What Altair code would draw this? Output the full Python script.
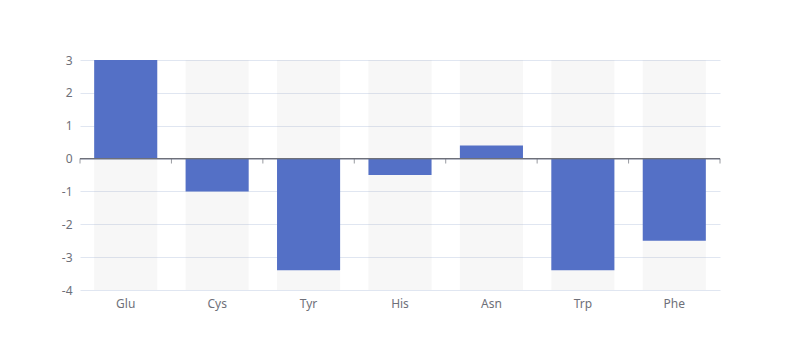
import altair as alt
import pandas as pd

categories = ["Glu", "Cys", "Tyr", "His", "Asn", "Trp", "Phe"]
values = [3, -1, -3.4, -0.5, 0.4, -3.4, -2.5]
y_min, y_max = -4, 3
y_ticks = [-4, -3, -2, -1, 0, 1, 2, 3]

df = pd.DataFrame({"cat": categories, "v": values, "lo": [y_min] * 7, "hi": [y_max] * 7})
last = pd.DataFrame({"cat": [categories[-1]]})

W, H = 640, 230
xscale = alt.Scale(domain=categories, paddingInner=0, paddingOuter=0)
yscale = alt.Scale(domain=[y_min, y_max], nice=False, zero=False)
font = "Noto Sans"

xaxis = alt.Axis(title=None, domain=False, ticks=False, labelAngle=0, grid=False,
                 labelColor="#6e7079", labelFontSize=12, labelPadding=8, labelFont=font)
yaxis = alt.Axis(title=None, values=y_ticks, tickCount=8, domain=False, ticks=False, grid=True,
                 gridColor="#e0e6f1", labelColor="#6e7079", labelFontSize=12,
                 labelPadding=8, labelFont=font, labelExpr="'' + datum.value")

bg = alt.Chart(df).mark_bar(color="#b4b4b4", opacity=0.1, width=alt.RelativeBandSize(0.69)).encode(
    x=alt.X("cat:N", scale=xscale, sort=categories, axis=xaxis),
    y=alt.Y("lo:Q", scale=yscale, axis=yaxis),
    y2="hi:Q",
)

bars = alt.Chart(df).mark_bar(color="#5470c6", width=alt.RelativeBandSize(0.69)).encode(
    x=alt.X("cat:N", scale=xscale, sort=categories, axis=xaxis),
    y=alt.Y("v:Q", scale=yscale, axis=yaxis),
    y2=alt.datum(0),
)

zero = alt.Chart(df).mark_rule(color="#6e7079", strokeWidth=1).encode(
    x=alt.value(0), x2=alt.value(W), y=alt.datum(0, scale=yscale, axis=yaxis)
)

ticks = alt.Chart(df).mark_tick(color="#6e7079", size=5, thickness=1, orient="vertical", yOffset=2.5).encode(
    x=alt.X("cat:N", scale=xscale, sort=categories, bandPosition=0, axis=xaxis),
    y=alt.datum(0, scale=yscale, axis=yaxis),
)
ticks_end = alt.Chart(last).mark_tick(color="#6e7079", size=5, thickness=1, orient="vertical", yOffset=2.5).encode(
    x=alt.X("cat:N", scale=xscale, sort=categories, bandPosition=1, axis=xaxis),
    y=alt.datum(0, scale=yscale, axis=yaxis),
)

chart = alt.layer(bg, bars, zero, ticks, ticks_end).properties(
    width=W, height=H,
    autosize=alt.AutoSizeParams(type="none"),
    padding={"left": 72, "top": 52, "right": 64, "bottom": 50},
).configure_view(stroke=None)

chart.save("out.html", embed_options={"renderer": "svg", "actions": False})
